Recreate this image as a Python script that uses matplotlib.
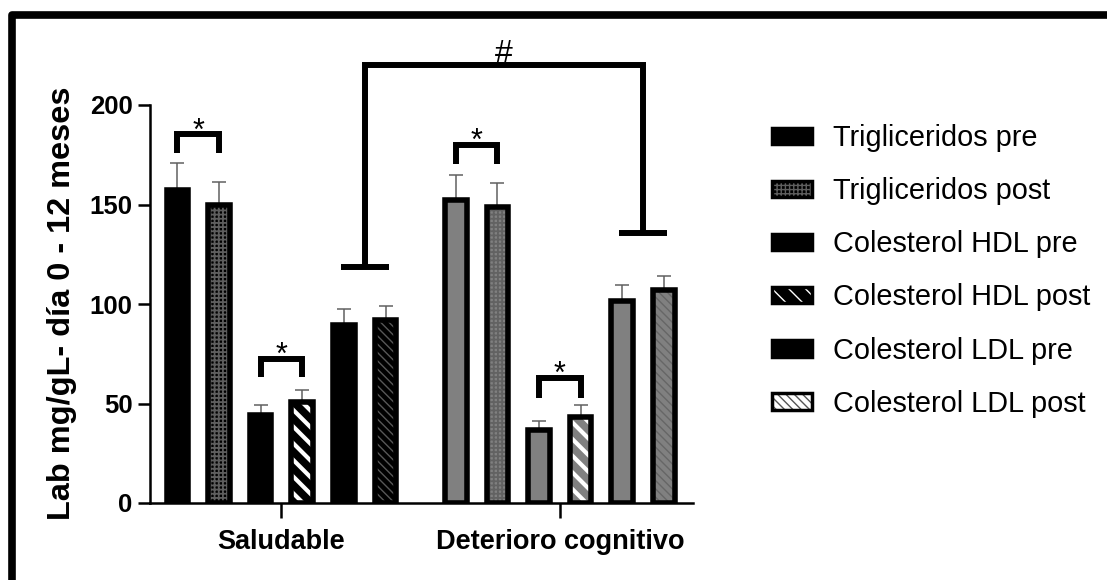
import matplotlib
matplotlib.use('Agg')
import matplotlib.pyplot as plt
from matplotlib.patches import Patch
from matplotlib.lines import Line2D

plt.rcParams['font.family'] = ['Liberation Sans', 'DejaVu Sans']
plt.rcParams['hatch.linewidth'] = 1.0

groups = ['Saludable', 'Deterioro cognitivo']
series = ['Trigliceridos pre', 'Trigliceridos post',
          'Colesterol HDL pre', 'Colesterol HDL post',
          'Colesterol LDL pre', 'Colesterol LDL post']
saludable = [157.5, 149.5, 44, 51, 89.5, 92]
saludable_err = [13.5, 12, 5, 6, 8, 7]
deterioro = [152.5, 148.5, 36.5, 43, 101.5, 107]
deterioro_err = [12.5, 12.5, 4.5, 6, 8, 7]

# pre vs post marks: (group, bar a, bar b, bracket top, leg end)
stars = [(0, 0, 1, 185.5, 176), (0, 2, 3, 72.5, 63.5),
         (1, 0, 1, 180, 170.5), (1, 2, 3, 63, 53)]
# '#' mark between LDL of both groups
hash_low = [118.5, 135.5]
hash_top = 220

# fill, hatch, hatch colour, hatch linewidth
sal_style = [('black', None, None, 0), ('black', '++++', '#5e5e5e', 1.3),
             ('black', None, None, 0), ('black', '\\\\', 'white', 3.0),
             ('black', None, None, 0), ('black', '\\\\\\\\', '#575757', 1.0)]
det_style = [('#808080', None, None, 0), ('#808080', '++++', '#626262', 1.3),
             ('#808080', None, None, 0), ('#808080', '\\\\', 'white', 3.0),
             ('#808080', None, None, 0), ('#808080', '\\\\\\\\', '#666666', 1.0)]
leg_style = [('black', None, None, 0), ('black', '++++', '#5e5e5e', 1.3),
             ('black', None, None, 0), ('black', '\\\\', 'white', 3.0),
             ('black', None, None, 0), ('white', '\\\\\\\\', '#555555', 1.0)]

centers = [0, 6.69]
offsets = [-2.5, -1.5, -0.5, 0.5, 1.5, 2.5]
width = 0.52


def set_hlw(patch, lw):
    # per-patch hatch width where matplotlib supports it
    try:
        patch.set_hatch_linewidth(lw)
    except AttributeError:
        pass


fig = plt.figure(figsize=(11.07, 5.8), dpi=100)
ax = fig.add_axes([150 / 1107, 1 - 503 / 580, 543 / 1107, 398 / 580])

for c, vals, errs, styles in [(centers[0], saludable, saludable_err, sal_style),
                              (centers[1], deterioro, deterioro_err, det_style)]:
    for off, v, e, (face, hatch, hcol, hlw) in zip(offsets, vals, errs, styles):
        x = c + off
        bars = ax.bar(x, v, width, color=face, hatch=hatch,
                      edgecolor=hcol if hcol else face, linewidth=0, zorder=2)
        if hlw:
            set_hlw(bars[0], hlw)
        ax.bar(x, v, width, fill=False, edgecolor='black', linewidth=4, zorder=3)
        ax.errorbar(x, v, yerr=[[0], [e]], fmt='none', ecolor='#606060',
                    elinewidth=1.1, capsize=5, capthick=1.1, zorder=1)

# brackets with asterisks
for g, a, b, top, leg in stars:
    xa = centers[g] + offsets[a]
    xb = centers[g] + offsets[b]
    ax.plot([xa, xa, xb, xb], [leg, top, top, leg], color='black', lw=4.3,
            solid_joinstyle='miter', solid_capstyle='butt', clip_on=False, zorder=4)
    ax.annotate('*', xy=((xa + xb) / 2, top), xytext=(0, -4), textcoords='offset points',
                ha='center', va='baseline', fontsize=22, annotation_clip=False)

# '#' bracket
hx = [centers[0] + (offsets[4] + offsets[5]) / 2, centers[1] + (offsets[4] + offsets[5]) / 2]
ax.plot([hx[0], hx[0], hx[1], hx[1]], [hash_low[0], hash_top, hash_top, hash_low[1]],
        color='black', lw=4.3, solid_joinstyle='miter', solid_capstyle='butt',
        clip_on=False, zorder=4)
for x, y in zip(hx, hash_low):
    ax.plot([x - 0.58, x + 0.58], [y, y], color='black', lw=4.3,
            solid_capstyle='butt', clip_on=False, zorder=4)
ax.annotate('#', xy=(sum(hx) / 2, hash_top), xytext=(0, 2.5), textcoords='offset points',
            ha='center', va='baseline', fontsize=23, annotation_clip=False)

ax.set_xlim(-3.16, 9.89)
ax.set_ylim(0, 200)
ax.set_yticks([0, 50, 100, 150, 200])
ax.set_xticks(centers)
ax.set_xticklabels(groups, fontsize=19.5, fontweight='bold')
for lab in ax.get_yticklabels():
    lab.set_fontsize(18.5)
    lab.set_fontweight('bold')
ax.tick_params(axis='y', length=9, width=1.8, pad=3.5)
ax.tick_params(axis='x', length=11, width=1.8, pad=8)
for s in ['top', 'right']:
    ax.spines[s].set_visible(False)
for s in ['left', 'bottom']:
    ax.spines[s].set_linewidth(1.8)

fig.text(62 / 1107, 1 - 303 / 580, 'Lab mg/gL- día 0 - 12 meses', rotation=90,
         ha='center', va='center', fontsize=23.4, fontweight='bold')

# legend
handles = []
for face, hatch, hcol, hlw in leg_style:
    p1 = Patch(facecolor=face, hatch=hatch, edgecolor=hcol if hcol else face, linewidth=0)
    if hlw:
        set_hlw(p1, hlw)
    p2 = Patch(fill=False, edgecolor='black', linewidth=2.5)
    handles.append((p1, p2))
leg = fig.legend(handles, series, loc='upper left', bbox_to_anchor=(772 / 1107, 1 - 124 / 580),
                 frameon=False, fontsize=20.8, handlelength=1.4, handleheight=0.5,
                 handletextpad=0.72, labelspacing=0.87, borderpad=0, borderaxespad=0)

# outer frame (top and left)
fig.add_artist(Line2D([12 / 1107, 12 / 1107, 1.01], [-0.01, 1 - 14.5 / 580, 1 - 14.5 / 580],
                      transform=fig.transFigure, color='black', lw=5.5,
                      solid_joinstyle='round'))

fig.savefig('out.png', dpi=100)
